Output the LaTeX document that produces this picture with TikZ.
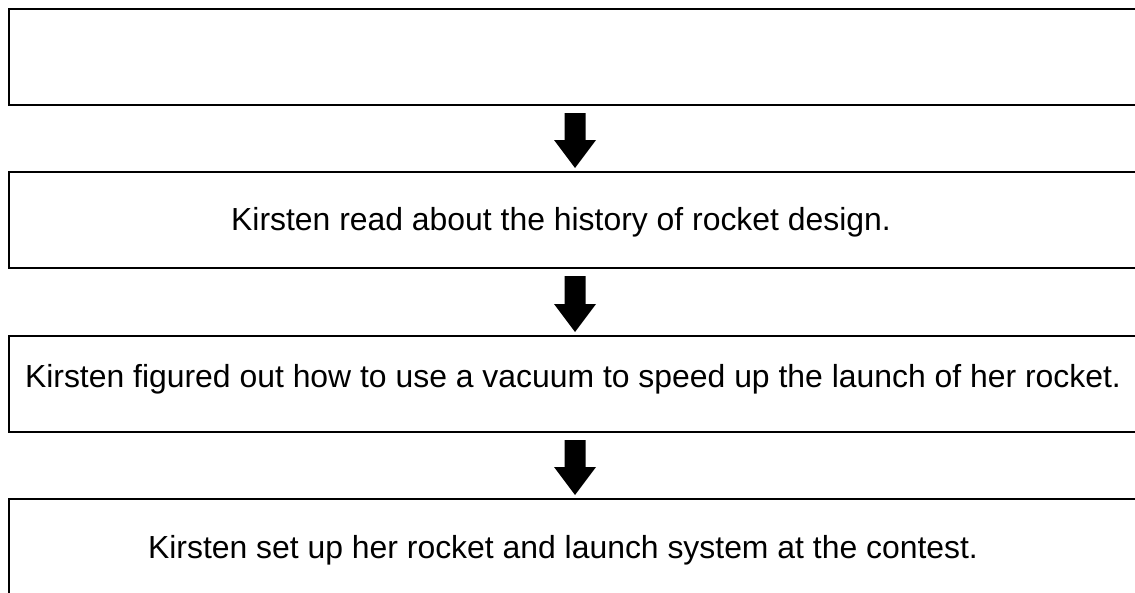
\documentclass[tikz,border=0pt]{standalone}
\usepackage{fontspec}
\setmainfont{Liberation Sans}
\usetikzlibrary{calc}
\begin{document}
\begin{tikzpicture}[x=1pt,y=-1pt,
  stepbox/.style={draw=black,line width=2pt,minimum width=1145pt,minimum height=96pt,inner sep=0pt,anchor=north west},
  steptext/.style={font=\fontsize{31.9}{36}\selectfont,anchor=base,inner sep=0pt},
  downarrow/.style={fill=black}]
\useasboundingbox (0,0) rectangle (1135,592);
\node[stepbox] (b1) at (8,8) {};
\node[stepbox] (b2) at (8,171) {};
\node[stepbox] (b3) at (8,335) {};
\node[stepbox] (b4) at (8,498) {};
\coordinate (c1) at (575,104);
\coordinate (c2) at (575,171);
\coordinate (c3) at (575,267);
\coordinate (c4) at (575,335);
\coordinate (c5) at (575,431);
\coordinate (c6) at (575,498);
\node[steptext] (t2) at (561,230) {Kirsten read about the history of rocket design.};
\node[steptext] (t3) at (573,387) {Kirsten figured out how to use a vacuum to speed up the launch of her rocket.};
\node[steptext] (t4) at (563,558) {Kirsten set up her rocket and launch system at the contest.};
\foreach \a/\b in {c1/c2,c3/c4,c5/c6}{
  \fill[downarrow] ($(\a)+(-10.5,9)$) -- ($(\a)+(10.5,9)$)
    -- ($(\b)+(10.5,-31)$) -- ($(\b)+(21,-31)$) -- ($(\b)+(0,-3)$)
    -- ($(\b)+(-21,-31)$) -- ($(\b)+(-10.5,-31)$) -- cycle;
}
\end{tikzpicture}
\end{document}
